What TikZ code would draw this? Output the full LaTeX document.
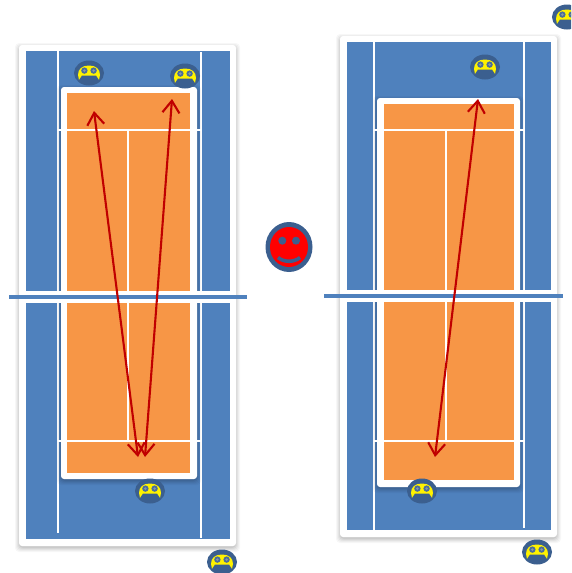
\documentclass[tikz,border=0pt]{standalone}
\usetikzlibrary{arrows.meta,shapes.geometric}
\definecolor{courtblue}{HTML}{4F81BD}
\definecolor{courtorange}{HTML}{F79646}
\definecolor{ringblue}{HTML}{3B5F8F}
\definecolor{eyeblue}{HTML}{4A6D9C}
\definecolor{eyegrey}{HTML}{8A9AA0}
\definecolor{shotred}{HTML}{C00000}
\tikzset{
  courtline/.style={draw=white,line width=2pt},
  netline/.style={draw=courtblue,line width=4pt},
  netgap/.style={draw=white,line width=12pt},
  shot/.style={draw=shotred,line width=2.1pt,{Straight Barb[length=12pt,width=17pt,line width=2.1pt]}-{Straight Barb[length=12pt,width=17pt,line width=2.1pt]}},
  ballbody/.style={ellipse,fill=ringblue,draw=none,inner sep=0pt,minimum width=30pt,minimum height=25pt},
  facebody/.style={ellipse,fill=ringblue,inner sep=0pt,minimum width=47pt,minimum height=50pt},
  faceinner/.style={ellipse,fill=red,inner sep=0pt,minimum width=38pt,minimum height=40pt},
}
% soft shadowed white panel: x0,y0,x1,y1
\newcommand{\softpanel}[4]{%
  \foreach \g/\o in {5/.03,4/.035,3/.04,2/.05,1/.06}{%
    \fill[black,opacity=\o,rounded corners=4pt] (#1-\g+1,#2-\g+3) rectangle (#3+\g-1,#4+\g+1);}
  \fill[white,rounded corners=3pt] (#1,#2) rectangle (#3,#4);}
\newcommand{\player}[3]{%
  \node[ballbody] (#1) at (#2,#3) {};
  \begin{scope}[shift={(#2,#3)}]
    \fill[yellow] (-11,2) .. controls (-11,-4) and (-7,-7.5) .. (0,-7.5)
       .. controls (7,-7.5) and (11,-4) .. (11,2) -- (10,6.8) -- (7.2,2.6)
       -- (-7.2,2.6) -- (-10,6.8) -- cycle;
    \foreach \s in {-1,1}{
      \fill[eyeblue] (\s*4.6,-2.4) circle (3.2);
      \fill[eyegrey] (\s*4.6,-2.4) circle (1.4);}
  \end{scope}}
\begin{document}
\begin{tikzpicture}[x=1pt,y=-1pt]
\useasboundingbox (0,0) rectangle (571,573);
\clip (0,0) rectangle (571,573);
\fill[white] (0,0) rectangle (571,573);

% left court
\softpanel{19}{45}{236}{546}
\fill[courtblue] (25.5,51) rectangle (229.5,539);
\draw[courtline] (58,51) -- (58,533);
\draw[courtline] (201,52) -- (201,538);
\softpanel{61}{87}{197}{479}
\fill[courtorange] (67,93) rectangle (190,473);
\draw[courtline] (58,130) -- (201,130);
\draw[courtline] (58,441) -- (201,441);
\draw[courtline] (128,130) -- (128,441);
\draw[netgap] (19,296.5) -- (236,296.5);
\draw[netline] (9,296.5) -- (247,296.5);

% right court
\softpanel{340}{36}{557}{537}
\fill[courtblue] (346.5,42) rectangle (551,530);
\draw[courtline] (374,42) -- (374,530);
\draw[courtline] (524,42) -- (524,528);
\softpanel{377}{98}{520}{487}
\fill[courtorange] (384,104) rectangle (514,480);
\draw[courtline] (374,130) -- (524,130);
\draw[courtline] (374,441) -- (524,441);
\draw[courtline] (446,130) -- (446,441);
\draw[netgap] (340,295.5) -- (557,295.5);
\draw[netline] (324,295.5) -- (563,295.5);

% players
\player{pa}{89}{73}
\player{pb}{185}{76}
\player{pc}{150}{491}
\player{pd}{222}{562}
\player{pe}{485}{67}
\player{pf}{422}{491}
\player{pg}{537}{552}
\player{ph}{567}{17}

% smiley
\node[facebody] (face) at (289,247) {};
\node[faceinner] (facein) at (289,247) {};
\fill[ringblue] (282.3,240.7) circle (4);
\fill[ringblue] (296,240.7) circle (4);
\draw[ringblue,line width=3.6pt] (278,257.5) .. controls (284,262.5) and (294,262.5) .. (300,257.5);

% shots
\coordinate (a1) at (94,111);
\coordinate (a2) at (138,457);
\coordinate (b1) at (172,99);
\coordinate (b2) at (145,457);
\coordinate (c1) at (478,99);
\coordinate (c2) at (435,457);
\draw[shot] (a1) -- (a2);
\draw[shot] (b1) -- (b2);
\draw[shot] (c1) -- (c2);
\end{tikzpicture}
\end{document}
